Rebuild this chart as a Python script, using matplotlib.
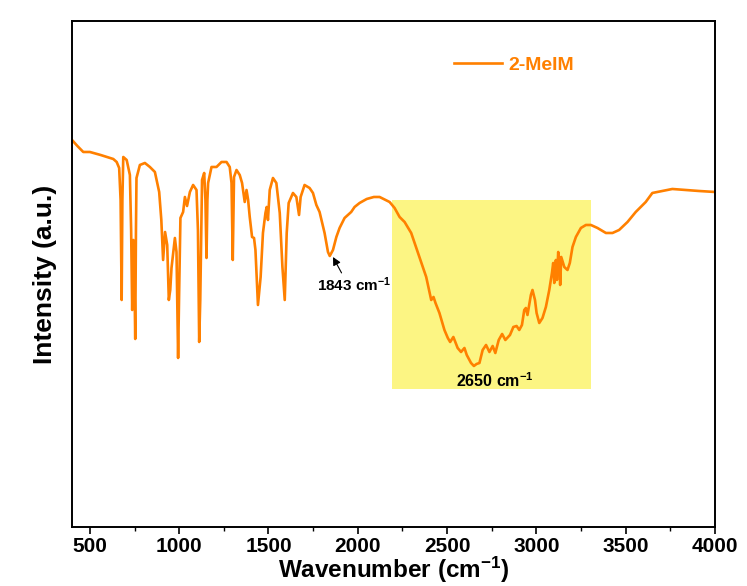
import matplotlib
matplotlib.use('Agg')
import matplotlib.pyplot as plt
from matplotlib.patches import Rectangle
from matplotlib.ticker import MultipleLocator

plt.rcParams['font.family'] = ['Liberation Sans', 'DejaVu Sans']
plt.rcParams['font.weight'] = 'bold'
plt.rcParams['mathtext.default'] = 'regular'

# FTIR spectrum of 2-MeIM (wavenumber in cm-1, intensity in a.u.)
wavenumber = [
    400, 430, 463, 500, 560, 631, 650, 664, 672, 678,
    682, 687, 706, 724, 731, 737, 743, 748, 754, 758,
    761, 780, 808, 836, 864, 888, 900, 910, 921, 933,
    942, 950, 957, 976, 985, 994, 1000, 1007, 1022, 1032,
    1044, 1060, 1078, 1097, 1105, 1112, 1118, 1128, 1140, 1147,
    1153, 1158, 1162, 1181, 1209, 1237, 1265, 1283, 1293, 1300,
    1307, 1321, 1339, 1352, 1367, 1377, 1386, 1395, 1408, 1419,
    1427, 1441, 1456, 1469, 1483, 1490, 1497, 1507, 1525, 1544,
    1563, 1578, 1591, 1602, 1613, 1637, 1656, 1671, 1680, 1702,
    1730, 1749, 1768, 1786, 1814, 1833, 1843, 1861, 1880, 1898,
    1926, 1963, 1982, 2010, 2050, 2090, 2122, 2178, 2206, 2234,
    2262, 2299, 2345, 2383, 2411, 2424, 2435, 2457, 2485, 2504,
    2517, 2535, 2559, 2578, 2597, 2610, 2634, 2650, 2665, 2681,
    2699, 2718, 2737, 2755, 2770, 2789, 2808, 2826, 2852, 2871,
    2889, 2904, 2919, 2932, 2941, 2950, 2969, 2978, 2992, 3001,
    3016, 3034, 3053, 3072, 3087, 3094, 3100, 3109, 3115, 3122,
    3128, 3133, 3139, 3156, 3174, 3187, 3202, 3221, 3249, 3277,
    3305, 3342, 3389, 3426, 3463, 3510, 3556, 3612, 3649, 3705,
    3761, 3836, 3910, 4000,
]
intensity = [
    387, 381, 375, 375, 372, 368, 365, 359, 327, 227,
    327, 370, 367, 352, 297, 217, 287, 267, 188, 297,
    349, 362, 364, 360, 355, 335, 307, 267, 295, 282,
    227, 237, 259, 289, 275, 169, 237, 309, 315, 330,
    321, 335, 342, 337, 297, 185, 227, 347, 354, 327,
    269, 327, 344, 360, 360, 365, 365, 360, 344, 267,
    350, 357, 352, 344, 325, 337, 327, 310, 290, 289,
    277, 222, 250, 294, 314, 320, 307, 337, 349, 344,
    314, 260, 227, 294, 324, 334, 330, 312, 330, 342,
    339, 334, 322, 315, 294, 275, 271, 277, 290, 299,
    309, 315, 320, 324, 328, 330, 330, 325, 319, 310,
    305, 294, 270, 250, 227, 230, 224, 214, 197, 189,
    185, 190, 179, 175, 179, 172, 164, 161, 163, 164,
    177, 182, 175, 181, 174, 187, 193, 187, 192, 200,
    201, 197, 202, 217, 219, 212, 232, 237, 227, 214,
    204, 209, 220, 237, 254, 264, 244, 267, 247, 275,
    267, 242, 270, 260, 257, 264, 280, 290, 299, 302,
    302, 299, 294, 294, 297, 305, 315, 325, 334, 336,
    338, 337, 336, 335,
]

# highlighted broad N-H...N band
band_range = (2193, 3305)
band_levels = (138, 327)

line_color = '#FF8000'

fig = plt.figure(figsize=(7.47, 5.86), dpi=100)
ax = fig.add_axes([0.0964, 0.1007, 0.8608, 0.8635])

ax.add_patch(Rectangle((band_range[0], band_levels[0]),
                       band_range[1] - band_range[0],
                       band_levels[1] - band_levels[0],
                       facecolor='#FCF583', edgecolor='none', zorder=1))

ax.plot(wavenumber, intensity, color=line_color, lw=1.9, label='2-MeIM',
        solid_joinstyle='round', zorder=2)

ax.annotate('1843 cm$^{-1}$', xy=(1861, 270), xytext=(1772, 242),
            fontsize=11, fontweight='bold', va='center', ha='left',
            arrowprops=dict(arrowstyle='-|>', color='black', lw=0.8,
                            mutation_scale=12, shrinkA=0, shrinkB=0,
                            relpos=(0.35, 1.0)))
ax.text(2550, 146, '2650 cm$^{-1}$', fontsize=11.5, fontweight='bold',
        va='center', ha='left')

ax.set_xlim(400, 4000)
ax.set_ylim(0, 506)
ax.xaxis.set_major_locator(MultipleLocator(500))
ax.xaxis.set_minor_locator(MultipleLocator(250))
ax.tick_params(axis='x', which='major', direction='out', length=5, width=1.2,
               labelsize=15, pad=2)
ax.tick_params(axis='x', which='minor', direction='out', length=3, width=1.0)
ax.tick_params(axis='y', left=False, labelleft=False)
for lbl in ax.get_xticklabels():
    lbl.set_fontweight('bold')
for spine in ax.spines.values():
    spine.set_linewidth(1.4)

ax.set_xlabel('Wavenumber (cm$^{-1}$)', fontsize=17.5, fontweight='bold', labelpad=-1)
ax.set_ylabel('Intensity (a.u.)', fontsize=19, fontweight='bold', labelpad=11)

ax.legend(loc='center left', bbox_to_anchor=(0.5785, 0.913), frameon=False,
          handlelength=2.5, handletextpad=0.3, borderpad=0,
          labelcolor=line_color, prop={'weight': 'bold', 'size': 14})

fig.savefig('out.png', dpi=100)
